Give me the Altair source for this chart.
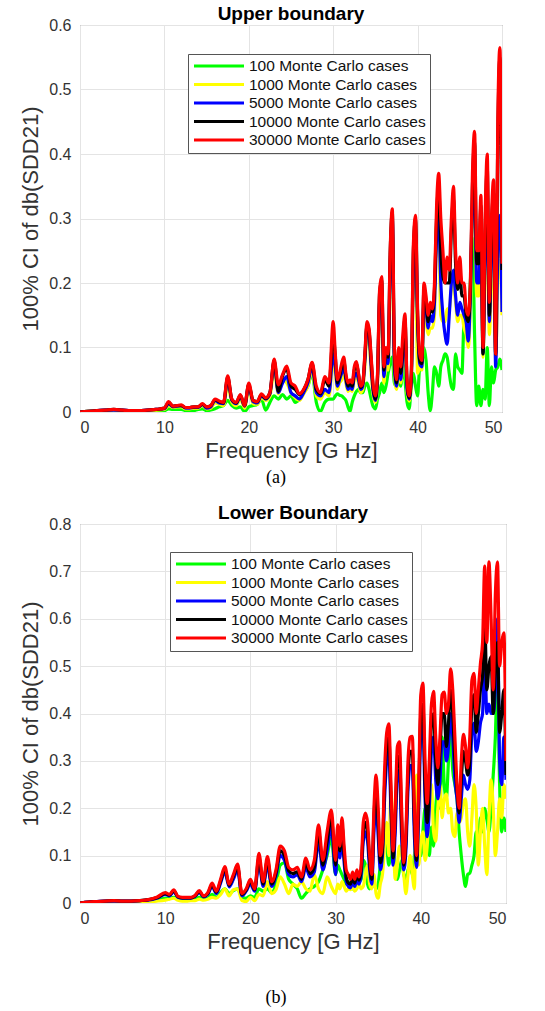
import altair as alt
import pandas as pd

# ---------------- data ----------------
# sampling frequencies in GHz: 0..10 step 1, 10.5..30 step 0.5, 30.25..50 step 0.25
FREQ = [float(i) for i in range(0, 11)] + [10.5 + 0.5 * i for i in range(40)] + [30.25 + 0.25 * i for i in range(80)]

SERIES = [
    "100 Monte Carlo cases",
    "1000 Monte Carlo cases",
    "5000 Monte Carlo cases",
    "10000 Monte Carlo cases",
    "30000 Monte Carlo cases",
]
COLORS = ["#00ff00", "#ffff00", "#0000ff", "#000000", "#ff0000"]

Y_TICKS_A = [0, 0.1, 0.2, 0.3, 0.4, 0.5, 0.6]
Y_TICKS_B = [0, 0.1, 0.2, 0.3, 0.4, 0.5, 0.6, 0.7, 0.8]
X_TICKS = [0, 10, 20, 30, 40, 50]

# ---- (a) Upper boundary ----
GREEN_A = [0.000, 0.001, 0.001, 0.002, 0.002, 0.001, 0.001, 0.001, 0.001, 0.002, 0.002,
           0.005, 0.004, 0.004, 0.004, 0.002, 0.001, 0.002, 0.004, 0.005, 0.002,
           0.003, 0.005, 0.008, 0.010, 0.018, 0.010, 0.006, 0.008, 0.001, 0.008,
           0.010, 0.012, 0.020, 0.003, 0.015, 0.025, 0.020, 0.027, 0.020, 0.025,
           0.015, 0.020, 0.030, 0.040, 0.060, 0.015, 0.001, 0.015, 0.020, 0.020,
           0.025, 0.028, 0.026, 0.025, 0.022, 0.018, 0.008, 0.001, 0.015, 0.025,
           0.032, 0.035, 0.030, 0.030, 0.040, 0.045, 0.035, 0.020, 0.008, 0.005,
           0.020, 0.030, 0.045, 0.030, 0.040, 0.060, 0.075, 0.085, 0.045, 0.040,
           0.050, 0.040, 0.075, 0.050, 0.015, 0.005, 0.040, 0.060, 0.040, 0.025,
           0.070, 0.075, 0.100, 0.080, 0.030, 0.002, 0.030, 0.070, 0.060, 0.040,
           0.070, 0.080, 0.090, 0.085, 0.060, 0.040, 0.035, 0.090, 0.070, 0.065,
           0.060, 0.140, 0.150, 0.120, 0.200, 0.270, 0.120, 0.010, 0.040, 0.010,
           0.035, 0.020, 0.100, 0.010, 0.070, 0.045, 0.065, 0.070, 0.082, 0.065]
YELLOW_A = [0.000, 0.001, 0.002, 0.002, 0.003, 0.002, 0.002, 0.002, 0.002, 0.003, 0.004,
            0.010, 0.007, 0.008, 0.008, 0.005, 0.005, 0.006, 0.006, 0.010, 0.005,
            0.006, 0.014, 0.012, 0.010, 0.040, 0.015, 0.010, 0.020, 0.006, 0.035,
            0.013, 0.012, 0.022, 0.018, 0.024, 0.065, 0.028, 0.050, 0.045, 0.030,
            0.022, 0.018, 0.028, 0.040, 0.065, 0.025, 0.020, 0.030, 0.025, 0.080,
            0.060, 0.035, 0.045, 0.050, 0.060, 0.045, 0.032, 0.035, 0.032, 0.050,
            0.055, 0.045, 0.030, 0.035, 0.070, 0.120, 0.110, 0.060, 0.025, 0.015,
            0.045, 0.150, 0.170, 0.045, 0.075, 0.065, 0.200, 0.280, 0.060, 0.035,
            0.060, 0.045, 0.080, 0.120, 0.030, 0.017, 0.045, 0.200, 0.260, 0.060,
            0.070, 0.065, 0.150, 0.140, 0.120, 0.130, 0.130, 0.150, 0.290, 0.280,
            0.150, 0.140, 0.140, 0.160, 0.160, 0.190, 0.200, 0.170, 0.140, 0.150,
            0.150, 0.130, 0.120, 0.100, 0.160, 0.300, 0.330, 0.180, 0.180, 0.250,
            0.085, 0.220, 0.280, 0.120, 0.200, 0.260, 0.085, 0.200, 0.280, 0.150]
BLUE_A = [0.000, 0.001, 0.002, 0.003, 0.003, 0.003, 0.002, 0.002, 0.003, 0.004, 0.005,
          0.013, 0.008, 0.009, 0.010, 0.006, 0.006, 0.007, 0.007, 0.012, 0.006,
          0.008, 0.018, 0.014, 0.013, 0.050, 0.018, 0.013, 0.024, 0.009, 0.040,
          0.016, 0.014, 0.025, 0.020, 0.028, 0.075, 0.030, 0.045, 0.055, 0.030,
          0.025, 0.020, 0.030, 0.045, 0.070, 0.030, 0.025, 0.035, 0.030, 0.090,
          0.070, 0.040, 0.050, 0.060, 0.070, 0.050, 0.035, 0.040, 0.035, 0.055,
          0.060, 0.050, 0.035, 0.040, 0.080, 0.130, 0.120, 0.070, 0.030, 0.018,
          0.050, 0.170, 0.190, 0.055, 0.085, 0.075, 0.220, 0.300, 0.070, 0.040,
          0.070, 0.050, 0.090, 0.130, 0.035, 0.020, 0.050, 0.220, 0.280, 0.140,
          0.075, 0.070, 0.170, 0.160, 0.130, 0.150, 0.140, 0.170, 0.270, 0.300,
          0.200, 0.150, 0.120, 0.105, 0.150, 0.200, 0.220, 0.180, 0.150, 0.170,
          0.160, 0.150, 0.140, 0.110, 0.180, 0.320, 0.360, 0.200, 0.200, 0.280,
          0.090, 0.250, 0.300, 0.140, 0.250, 0.300, 0.070, 0.250, 0.305, 0.155]
BLACK_A = [0.000, 0.001, 0.002, 0.003, 0.004, 0.003, 0.002, 0.002, 0.003, 0.004, 0.006,
           0.015, 0.009, 0.010, 0.010, 0.007, 0.007, 0.008, 0.008, 0.012, 0.008,
           0.010, 0.019, 0.016, 0.014, 0.054, 0.019, 0.014, 0.026, 0.010, 0.043,
           0.018, 0.016, 0.027, 0.021, 0.030, 0.080, 0.032, 0.056, 0.066, 0.040,
           0.035, 0.027, 0.034, 0.050, 0.075, 0.035, 0.028, 0.050, 0.040, 0.120,
           0.085, 0.045, 0.055, 0.070, 0.080, 0.055, 0.040, 0.045, 0.040, 0.065,
           0.075, 0.058, 0.038, 0.044, 0.085, 0.135, 0.125, 0.080, 0.035, 0.020,
           0.055, 0.185, 0.205, 0.065, 0.095, 0.085, 0.245, 0.310, 0.090, 0.045,
           0.080, 0.060, 0.100, 0.145, 0.045, 0.022, 0.055, 0.250, 0.300, 0.150,
           0.080, 0.075, 0.190, 0.170, 0.140, 0.160, 0.155, 0.190, 0.300, 0.350,
           0.250, 0.210, 0.200, 0.200, 0.200, 0.280, 0.330, 0.230, 0.190, 0.220,
           0.180, 0.180, 0.150, 0.140, 0.190, 0.350, 0.420, 0.230, 0.230, 0.320,
           0.090, 0.280, 0.380, 0.150, 0.280, 0.340, 0.090, 0.420, 0.550, 0.220]
RED_A = [0.000, 0.001, 0.002, 0.003, 0.004, 0.003, 0.002, 0.002, 0.003, 0.004, 0.006,
         0.016, 0.009, 0.010, 0.011, 0.007, 0.007, 0.008, 0.008, 0.013, 0.008,
         0.010, 0.020, 0.017, 0.015, 0.056, 0.020, 0.015, 0.027, 0.010, 0.045,
         0.018, 0.016, 0.028, 0.022, 0.030, 0.082, 0.042, 0.058, 0.071, 0.045,
         0.040, 0.028, 0.035, 0.050, 0.077, 0.040, 0.030, 0.055, 0.045, 0.140,
         0.090, 0.050, 0.060, 0.075, 0.085, 0.060, 0.045, 0.050, 0.045, 0.070,
         0.078, 0.060, 0.040, 0.045, 0.090, 0.140, 0.130, 0.085, 0.040, 0.025,
         0.060, 0.190, 0.210, 0.070, 0.100, 0.090, 0.250, 0.315, 0.100, 0.050,
         0.100, 0.070, 0.120, 0.152, 0.050, 0.025, 0.060, 0.260, 0.305, 0.160,
         0.090, 0.080, 0.200, 0.180, 0.150, 0.170, 0.160, 0.200, 0.320, 0.370,
         0.300, 0.250, 0.200, 0.240, 0.220, 0.300, 0.350, 0.250, 0.200, 0.240,
         0.200, 0.200, 0.160, 0.150, 0.200, 0.370, 0.435, 0.250, 0.250, 0.336,
         0.100, 0.300, 0.400, 0.170, 0.300, 0.360, 0.090, 0.450, 0.565, 0.230]

# ---- (b) Lower Boundary ----
GREEN_B = [0.000, 0.001, 0.002, 0.002, 0.003, 0.003, 0.003, 0.003, 0.004, 0.006, 0.010,
           0.010, 0.012, 0.008, 0.007, 0.006, 0.006, 0.008, 0.012, 0.008, 0.010,
           0.018, 0.012, 0.022, 0.030, 0.020, 0.026, 0.030, 0.012, 0.010, 0.015,
           0.012, 0.030, 0.025, 0.030, 0.022, 0.040, 0.080, 0.085, 0.050, 0.040,
           0.030, 0.010, 0.020, 0.030, 0.035, 0.045, 0.070, 0.100, 0.137, 0.060,
           0.080, 0.070, 0.060, 0.050, 0.040, 0.045, 0.035, 0.030, 0.040, 0.035,
           0.045, 0.050, 0.090, 0.080, 0.040, 0.030, 0.050, 0.040, 0.030, 0.040,
           0.080, 0.110, 0.150, 0.120, 0.080, 0.100, 0.120, 0.080, 0.050, 0.070,
           0.090, 0.060, 0.050, 0.070, 0.080, 0.060, 0.100, 0.150, 0.120, 0.100,
           0.150, 0.200, 0.120, 0.100, 0.160, 0.120, 0.200, 0.250, 0.200, 0.350,
           0.250, 0.220, 0.300, 0.360, 0.280, 0.250, 0.220, 0.150, 0.100, 0.060,
           0.035, 0.060, 0.063, 0.080, 0.100, 0.150, 0.120, 0.180, 0.150, 0.200,
           0.180, 0.150, 0.200, 0.270, 0.350, 0.490, 0.250, 0.150, 0.180, 0.150]
YELLOW_B = [0.000, 0.001, 0.001, 0.002, 0.002, 0.002, 0.002, 0.002, 0.003, 0.004, 0.006,
            0.008, 0.010, 0.006, 0.004, 0.004, 0.005, 0.005, 0.008, 0.006, 0.008,
            0.012, 0.010, 0.018, 0.030, 0.015, 0.028, 0.030, 0.005, 0.003, 0.012,
            0.005, 0.018, 0.015, 0.045, 0.020, 0.028, 0.055, 0.040, 0.020, 0.040,
            0.035, 0.045, 0.030, 0.025, 0.060, 0.030, 0.020, 0.055, 0.035, 0.020,
            0.040, 0.030, 0.045, 0.035, 0.025, 0.030, 0.028, 0.035, 0.025, 0.030,
            0.040, 0.030, 0.035, 0.060, 0.080, 0.040, 0.030, 0.060, 0.020, 0.010,
            0.040, 0.060, 0.120, 0.170, 0.100, 0.235, 0.150, 0.050, 0.080, 0.120,
            0.100, 0.060, 0.020, 0.060, 0.100, 0.060, 0.030, 0.270, 0.080, 0.130,
            0.150, 0.090, 0.120, 0.200, 0.250, 0.150, 0.130, 0.200, 0.250, 0.180,
            0.220, 0.230, 0.190, 0.200, 0.150, 0.140, 0.190, 0.170, 0.180, 0.210,
            0.220, 0.150, 0.120, 0.180, 0.250, 0.200, 0.080, 0.150, 0.200, 0.120,
            0.060, 0.180, 0.260, 0.200, 0.100, 0.150, 0.220, 0.180, 0.250, 0.220]
BLUE_B = [0.000, 0.002, 0.003, 0.004, 0.004, 0.004, 0.004, 0.005, 0.006, 0.010, 0.018,
          0.015, 0.024, 0.012, 0.010, 0.010, 0.010, 0.014, 0.022, 0.013, 0.018,
          0.035, 0.020, 0.042, 0.066, 0.034, 0.050, 0.070, 0.015, 0.025, 0.040,
          0.025, 0.085, 0.035, 0.080, 0.035, 0.058, 0.100, 0.090, 0.060, 0.055,
          0.060, 0.045, 0.075, 0.055, 0.065, 0.130, 0.070, 0.110, 0.160, 0.060,
          0.130, 0.095, 0.150, 0.085, 0.045, 0.035, 0.032, 0.045, 0.035, 0.050,
          0.040, 0.060, 0.130, 0.150, 0.130, 0.070, 0.040, 0.150, 0.210, 0.140,
          0.070, 0.100, 0.220, 0.300, 0.320, 0.190, 0.080, 0.150, 0.270, 0.280,
          0.140, 0.070, 0.110, 0.240, 0.290, 0.290, 0.140, 0.075, 0.190, 0.360,
          0.380, 0.220, 0.140, 0.200, 0.320, 0.350, 0.260, 0.220, 0.260, 0.340,
          0.340, 0.300, 0.330, 0.400, 0.350, 0.260, 0.220, 0.170, 0.220, 0.270,
          0.250, 0.240, 0.260, 0.360, 0.380, 0.320, 0.340, 0.380, 0.400, 0.520,
          0.400, 0.420, 0.400, 0.400, 0.450, 0.600, 0.300, 0.250, 0.350, 0.260]
BLACK_B = [0.000, 0.002, 0.003, 0.004, 0.005, 0.004, 0.004, 0.005, 0.007, 0.011, 0.020,
           0.017, 0.026, 0.013, 0.011, 0.011, 0.011, 0.015, 0.024, 0.014, 0.020,
           0.038, 0.023, 0.046, 0.072, 0.037, 0.056, 0.076, 0.018, 0.027, 0.046,
           0.028, 0.095, 0.040, 0.090, 0.040, 0.064, 0.110, 0.100, 0.068, 0.062,
           0.066, 0.050, 0.085, 0.062, 0.075, 0.150, 0.080, 0.130, 0.180, 0.080,
           0.150, 0.110, 0.165, 0.100, 0.055, 0.042, 0.040, 0.055, 0.042, 0.060,
           0.048, 0.070, 0.150, 0.170, 0.150, 0.085, 0.050, 0.180, 0.240, 0.170,
           0.085, 0.115, 0.250, 0.330, 0.350, 0.220, 0.095, 0.180, 0.300, 0.310,
           0.170, 0.080, 0.130, 0.270, 0.320, 0.320, 0.170, 0.090, 0.220, 0.400,
           0.420, 0.250, 0.170, 0.250, 0.380, 0.400, 0.300, 0.250, 0.320, 0.400,
           0.400, 0.330, 0.380, 0.450, 0.400, 0.300, 0.240, 0.190, 0.260, 0.320,
           0.300, 0.270, 0.300, 0.420, 0.440, 0.360, 0.400, 0.450, 0.480, 0.600,
           0.450, 0.500, 0.520, 0.400, 0.500, 0.550, 0.360, 0.400, 0.450, 0.270]
RED_B = [0.000, 0.002, 0.003, 0.004, 0.005, 0.004, 0.004, 0.005, 0.007, 0.012, 0.022,
         0.018, 0.028, 0.014, 0.012, 0.012, 0.012, 0.016, 0.026, 0.015, 0.022,
         0.042, 0.025, 0.050, 0.077, 0.040, 0.060, 0.082, 0.020, 0.030, 0.050,
         0.030, 0.105, 0.045, 0.098, 0.045, 0.070, 0.120, 0.110, 0.075, 0.070,
         0.075, 0.055, 0.095, 0.070, 0.090, 0.165, 0.090, 0.150, 0.196, 0.090,
         0.165, 0.120, 0.180, 0.120, 0.070, 0.060, 0.050, 0.065, 0.050, 0.070,
         0.055, 0.080, 0.170, 0.190, 0.170, 0.100, 0.060, 0.200, 0.270, 0.200,
         0.100, 0.130, 0.280, 0.360, 0.378, 0.250, 0.110, 0.200, 0.330, 0.340,
         0.200, 0.085, 0.150, 0.300, 0.350, 0.352, 0.200, 0.100, 0.250, 0.440,
         0.464, 0.300, 0.210, 0.300, 0.420, 0.447, 0.350, 0.285, 0.350, 0.440,
         0.445, 0.400, 0.420, 0.494, 0.450, 0.350, 0.250, 0.200, 0.300, 0.356,
         0.330, 0.285, 0.350, 0.470, 0.485, 0.400, 0.450, 0.506, 0.550, 0.711,
         0.550, 0.720, 0.600, 0.450, 0.650, 0.720, 0.500, 0.550, 0.570, 0.300]

FONT = "Liberation Sans"
LINE_W = 3.2


def panel(values, title, y_ticks, width, height, legend_x, legend_y, caption, caption_x, caption_y):
    rows = []
    for name, vals in zip(SERIES, values):
        if len(vals) != len(FREQ):
            raise ValueError(f"{title} {name}: {len(vals)} values, expected {len(FREQ)}")
        for f, v in zip(FREQ, vals):
            rows.append({"f": f, "v": v, "series": name})
    df = pd.DataFrame(rows)

    x = alt.X("f:Q", scale=alt.Scale(domain=[0, 50], nice=False),
              axis=alt.Axis(values=X_TICKS, format="d", title="Frequency [G Hz]",
                            labelPadding=7, titlePadding=5))
    y = alt.Y("v:Q", scale=alt.Scale(domain=[0, y_ticks[-1]], nice=False),
              axis=alt.Axis(values=y_ticks, format=".1~f", title="100% CI of db(SDD21)",
                            labelPadding=9, titlePadding=6))
    color = alt.Color(
        "series:N",
        scale=alt.Scale(domain=SERIES, range=COLORS),
        legend=alt.Legend(
            title=None, orient="none", legendX=legend_x, legendY=legend_y,
            symbolType="stroke", symbolSize=2500, symbolStrokeWidth=LINE_W,
            clipHeight=16, rowPadding=1.5, labelFontSize=15.5, labelFont=FONT,
            labelColor="#111111", labelOffset=3, labelLimit=400, padding=4,
            symbolOffset=0, strokeColor="#555555", fillColor="white",
        ),
    )
    base = alt.Chart(df)
    layers = [
        base.transform_filter(alt.datum.series == name)
        .mark_line(strokeWidth=LINE_W, interpolate="monotone", clip=True)
        .encode(x=x, y=y, color=color)
        for name in SERIES
    ]
    cap = alt.Chart(pd.DataFrame({"t": [caption]})).mark_text(
        font="Liberation Serif", fontSize=18, color="black", baseline="middle", align="center"
    ).encode(text="t:N", x=alt.value(caption_x), y=alt.value(caption_y))
    return alt.layer(*layers, cap).properties(
        width=width, height=height,
        title=alt.TitleParams(title, font=FONT, fontSize=19, fontWeight="bold", color="black",
                              anchor="middle", offset=-7),
    )


top = panel([GREEN_A, YELLOW_A, BLUE_A, BLACK_A, RED_A], "Upper boundary", Y_TICKS_A,
            422, 387, 108, 29, "(a)", 196, 453)
bottom = panel([GREEN_B, YELLOW_B, BLUE_B, BLACK_B, RED_B], "Lower Boundary", Y_TICKS_B,
               426, 379, 90, 28, "(b)", 196, 474)

chart = (
    alt.vconcat(top, bottom, spacing=15)
    .resolve_scale(color="independent")
    .properties(padding={"left": 19, "top": 4, "right": 0, "bottom": 0}, background="white")
    .configure_view(stroke="#666666", strokeWidth=1)
    .configure_axis(
        grid=True, gridColor="#e4e4e4", gridWidth=1, domain=False, ticks=False,
        labelFont=FONT, labelFontSize=16, labelColor="#333333",
        titleFont=FONT, titleFontSize=22, titleFontWeight="normal", titleColor="#333333",
    )
)

chart.save("out.html", embed_options={"renderer": "svg", "actions": False})
